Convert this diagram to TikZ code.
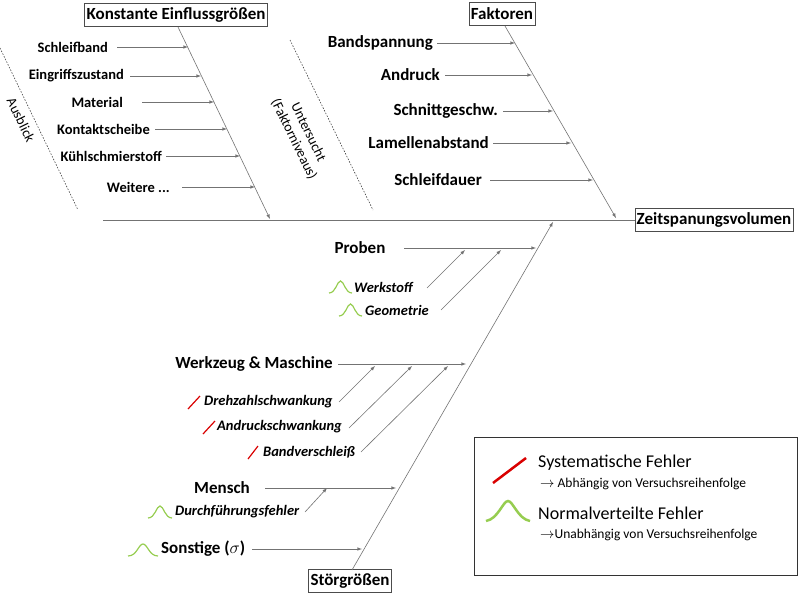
\documentclass[tikz,border=0pt]{standalone}
\usepackage{fontspec}
\setmainfont{Carlito}
\usepackage{tikz}
\usetikzlibrary{arrows}
\definecolor{normgreen}{RGB}{150,205,80}
\begin{document}
\begin{tikzpicture}[x=1pt,y=-1pt]
        \tikzset{Box/.style={%
                draw=black!70,%
                fill=white,%
                font=\fontsize{17}{19}\selectfont\bfseries,%
                inner sep=2pt,%
                minimum height=23pt,%
            },
            Lbl/.style={font=\fontsize{17}{19}\selectfont\bfseries,inner sep=0pt},
            Sml/.style={font=\fontsize{14.5}{16}\selectfont\bfseries,inner sep=0pt},
            Itl/.style={font=\fontsize{14.5}{16}\selectfont\bfseries\itshape,inner sep=0pt},
            Bone/.style={draw=black!55,line width=0.6pt},
            Arr/.style={draw=black!55,line width=0.6pt,-latex},
            Sys/.style={draw=red!85!black,line width=1.2pt},
            Nrm/.style={draw=normgreen,line width=1.2pt},
            Sep/.style={black!75,line width=0.6pt,dash pattern=on 1.5pt off 1.5pt},
        }
        \newcommand{\bump}[4]{% x, y, width, height
            \draw[Nrm,#4] (#1,#2) .. controls (#1+0.3*#3,#2) and (#1+0.35*#3,#2-12) .. (#1+0.5*#3,#2-12)
                .. controls (#1+0.65*#3,#2-12) and (#1+0.7*#3,#2) .. (#1+#3,#2);}
        \useasboundingbox (0,0) rectangle (800,594);

        % spine
        \node[Box] (zsv) at (714,220) {Zeitspanungsvolumen};
        \coordinate (s0) at (103,220);
        \path (s0) edge[Bone] (zsv.west);

        % konstante Einflussgroessen
        \node[Box] (keg) at (176,15) {Konstante Einflussgrößen};
        \coordinate (k1) at (178,27); \coordinate (k2) at (270,219);
        \path (k1) edge[Arr] (k2);
        \node[Sml,anchor=east] (sb) at (108,47) {Schleifband};
        \node[Sml,anchor=east] (ez) at (124,76) {Eingriffszustand};
        \node[Sml,anchor=east] (ma) at (123,102) {Material};
        \node[Sml,anchor=east] (ks) at (150,129) {Kontaktscheibe};
        \node[Sml,anchor=east] (kss) at (162,156) {Kühlschmierstoff};
        \node[Sml,anchor=east] (wt) at (170,187) {Weitere ...};
        \coordinate (sbe) at (188,47); \coordinate (eze) at (201,76);
        \coordinate (mae) at (214,102); \coordinate (kse) at (227,129);
        \coordinate (ksse) at (240,156); \coordinate (wte) at (255,187);
        \path (sb.east) ++(9,0) coordinate (sba) edge[Arr] (sbe);
        \path (ez.east) ++(6,0) coordinate (eza) edge[Arr] (eze);
        \path (ma.east) ++(19,0) coordinate (maa) edge[Arr] (mae);
        \path (ks.east) ++(5,0) coordinate (ksa) edge[Arr] (kse);
        \path (kss.east) ++(4,0) coordinate (kssa) edge[Arr] (ksse);
        \path (wt.east) ++(12,0) coordinate (wta) edge[Arr] (wte);

        % Ausblick / Untersucht
        \coordinate (d1) at (0,48); \coordinate (d2) at (78,210);
        \path (d1) edge[Sep] (d2);
        \node[font=\fontsize{14}{16}\selectfont,rotate=-64] (ab) at (21,120) {Ausblick};
        \coordinate (d3) at (290,40); \coordinate (d4) at (373,210);
        \path (d3) edge[Sep] (d4);
        \node[font=\fontsize{14}{16}\selectfont,rotate=-64,align=center] (us) at (301,136) {Untersucht\\(Faktorniveaus)};

        % Faktoren
        \node[Box] (fak) at (502,14) {Faktoren};
        \coordinate (f1) at (505,26); \coordinate (f2) at (616,218);
        \path (f1) edge[Arr] (f2);
        \node[Lbl,anchor=east] (bs) at (433,43) {Bandspannung};
        \node[Lbl,anchor=east] (ad) at (440,75) {Andruck};
        \node[Lbl,anchor=east] (sg) at (498,111) {Schnittgeschw.};
        \node[Lbl,anchor=east] (la) at (489,143) {Lamellenabstand};
        \node[Lbl,anchor=east] (sd) at (482,180) {Schleifdauer};
        \coordinate (bse) at (515,43); \coordinate (ade) at (532,75);
        \coordinate (sge) at (553,111); \coordinate (lae) at (571,143);
        \coordinate (sde) at (593,180);
        \path (bs.east) ++(4,0) coordinate (bsa) edge[Arr] (bse);
        \path (ad.east) ++(5,0) coordinate (ada) edge[Arr] (ade);
        \path (sg.east) ++(5,0) coordinate (sga) edge[Arr] (sge);
        \path (la.east) ++(4,0) coordinate (laa) edge[Arr] (lae);
        \path (sd.east) ++(8,0) coordinate (sda) edge[Arr] (sde);

        % Stoergroessen
        \node[Box] (stg) at (350,581) {Störgrößen};
        \coordinate (g1) at (352,570); \coordinate (g2) at (553,222);
        \path (g1) edge[Arr] (g2);

        \node[Lbl] (pr) at (360,248) {Proben};
        \coordinate (pra) at (404,248); \coordinate (pre) at (536,248);
        \path (pra) edge[Arr] (pre);
        \node[Itl,anchor=west] (wst) at (354,287) {Werkstoff};
        \node[Itl,anchor=west] (geo) at (365,310) {Geometrie};
        \bump{329}{293}{23}{}
        \bump{339}{316}{23}{}
        \coordinate (wsta) at (427,288); \coordinate (wste) at (465,250);
        \coordinate (geoa) at (441,310); \coordinate (geoe) at (501,250);
        \path (wsta) edge[Arr] (wste);
        \path (geoa) edge[Arr] (geoe);

        \node[Lbl,anchor=east] (wzm) at (333,364) {Werkzeug \& Maschine};
        \coordinate (wzma) at (338,364); \coordinate (wzme) at (466,364);
        \path (wzma) edge[Arr] (wzme);
        \node[Itl,anchor=west] (dzs) at (204,402) {Drehzahlschwankung};
        \node[Itl,anchor=west] (ars) at (217,427) {Andruckschwankung};
        \node[Itl,anchor=west] (bvs) at (263,452) {Bandverschleiß};
        \draw[Sys] (188,409) -- (200,396);
        \draw[Sys] (203,434) -- (215,421);
        \draw[Sys] (248,459) -- (258,446);
        \coordinate (dzsa) at (339,402); \coordinate (dzse) at (375,366);
        \coordinate (arsa) at (349,428); \coordinate (arse) at (412,366);
        \coordinate (bvsa) at (361,452); \coordinate (bvse) at (448,366);
        \path (dzsa) edge[Arr] (dzse);
        \path (arsa) edge[Arr] (arse);
        \path (bvsa) edge[Arr] (bvse);

        \node[Lbl,anchor=east] (me) at (250,488) {Mensch};
        \coordinate (mea) at (265,488); \coordinate (mee) at (396,488);
        \path (mea) edge[Arr] (mee);
        \node[Itl,anchor=west] (dff) at (175,512) {Durchführungsfehler};
        \bump{148}{518}{24}{}
        \coordinate (dffa) at (305,512); \coordinate (dffe) at (327,488);
        \path (dffa) edge[Arr] (dffe);

        \node[Lbl,anchor=west] (so) at (161,549) {Sonstige ($\sigma$)};
        \bump{128}{556}{30}{}
        \coordinate (soa) at (252,549); \coordinate (soe) at (362,549);
        \path (soa) edge[Arr] (soe);

        % Legende
        \draw[black!80,line width=0.8pt] (474,437) rectangle (797,575);
        \draw[Sys,line width=2.5pt] (493,483) -- (526,458);
        \draw[Nrm,line width=2.5pt] (486,521) .. controls (498,519) and (503,501) .. (508,501)
            .. controls (513,501) and (518,519) .. (530,521);
        \node[font=\fontsize{18}{20}\selectfont,anchor=west,inner sep=0pt] (l1) at (538,463) {Systematische Fehler};
        \node[font=\fontsize{13.5}{15}\selectfont,anchor=west,inner sep=0pt] (l2) at (540,484) {$\rightarrow$ Abhängig von Versuchsreihenfolge};
        \node[font=\fontsize{18}{20}\selectfont,anchor=west,inner sep=0pt] (l3) at (538,513) {Normalverteilte Fehler};
        \node[font=\fontsize{13.5}{15}\selectfont,anchor=west,inner sep=0pt] (l4) at (540,535) {$\rightarrow$Unabhängig von Versuchsreihenfolge};
\end{tikzpicture}
\end{document}
